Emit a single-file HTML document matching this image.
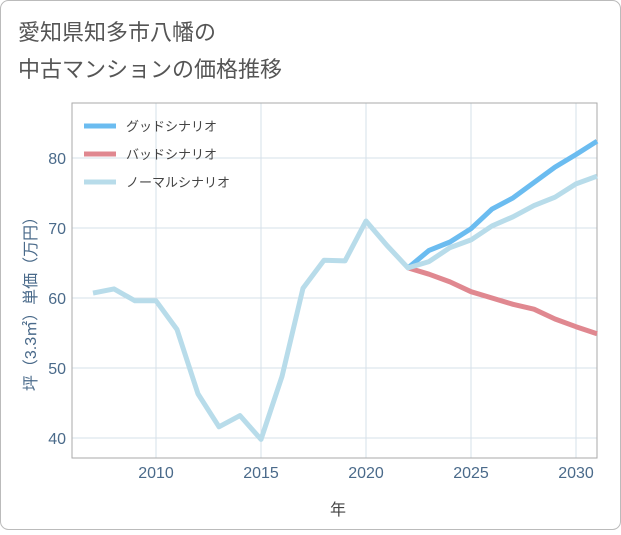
<!DOCTYPE html>
<html><head><meta charset="utf-8"><style>
body{margin:0;background:#fff;}
svg text{font-family:"Liberation Sans","Noto Sans CJK JP",sans-serif;}
</style></head><body>
<svg width="621" height="530">
<rect x="0.5" y="0.5" width="620" height="529" rx="8" fill="#fff" stroke="#bbb"/>
<text x="18" y="40" font-size="22" fill="#555">愛知県知多市八幡の</text>
<text x="18" y="77" font-size="22" fill="#555">中古マンションの価格推移</text>
<g id="grid"></g>
<rect x="72" y="103" width="525" height="355" fill="none" stroke="#aaa"/>
<g id="series"></g>
<g id="ticks"></g>
<text x="338" y="515" font-size="16" fill="#444" text-anchor="middle">年</text>
<text transform="translate(36,300) rotate(-90)" font-size="16" fill="#4a6a8a" text-anchor="middle">坪（3.3㎡）単価（万円）</text>
<g>
<line x1="84" y1="126" x2="116" y2="126" stroke="#6bbcf0" stroke-width="5"/>
<text x="126" y="131" font-size="13" fill="#444">グッドシナリオ</text>
<line x1="84" y1="154" x2="116" y2="154" stroke="#e08890" stroke-width="5"/>
<text x="126" y="159" font-size="13" fill="#444">バッドシナリオ</text>
<line x1="84" y1="182" x2="116" y2="182" stroke="#b8dcea" stroke-width="5"/>
<text x="126" y="187" font-size="13" fill="#444">ノーマルシナリオ</text>
</g>
</svg>
<script>
const normalYears=[2007,2008,2009,2010,2011,2012,2013,2014,2015,2016,2017,2018,2019,2020,2021,2022,2023,2024,2025,2026,2027,2028,2029,2030,2031];
const normalValues=[60.7,61.3,59.6,59.6,55.5,46.3,41.6,43.2,39.8,48.8,61.4,65.4,65.3,71.0,67.5,64.3,65.2,67.2,68.3,70.3,71.6,73.2,74.4,76.3,77.4];
const scenarioYears=[2022,2023,2024,2025,2026,2027,2028,2029,2030,2031];
const goodValues=[64.3,66.8,68.0,69.9,72.7,74.3,76.5,78.7,80.5,82.4];
const badValues=[64.3,63.4,62.3,60.9,60.0,59.1,58.4,57.0,55.9,54.9];
const xTicks=[2010,2015,2020,2025,2030];
const yTicks=[40,50,60,70,80];
const NS="http://www.w3.org/2000/svg";
function xs(y){return 156+(y-2010)*21;}
function ys(v){return 298-(v-60)*7;}
const grid=document.getElementById('grid'),ticks=document.getElementById('ticks'),series=document.getElementById('series');
xTicks.forEach(t=>{
 const l=document.createElementNS(NS,'line');
 
 
 l.setAttribute('x1',xs(t));l.setAttribute('x2',xs(t));l.setAttribute('y1',103);l.setAttribute('y2',458);l.setAttribute('stroke','#d5e0ea');
 grid.appendChild(l);
 const tx=document.createElementNS(NS,'text');
 
 
 tx.setAttribute('x',xs(t));tx.setAttribute('y',478);tx.setAttribute('font-size','16');tx.setAttribute('fill','#4a6a8a');tx.setAttribute('text-anchor','middle');
 tx.textContent=t;ticks.appendChild(tx);
});
yTicks.forEach(t=>{
 const l=document.createElementNS(NS,'line');
 
 
 l.setAttribute('x1',72);l.setAttribute('x2',597);l.setAttribute('y1',ys(t));l.setAttribute('y2',ys(t));l.setAttribute('stroke','#d5e0ea');
 grid.appendChild(l);
 const tx=document.createElementNS(NS,'text');
 
 
 tx.setAttribute('x',66);tx.setAttribute('y',ys(t)+6);tx.setAttribute('font-size','16');tx.setAttribute('fill','#4a6a8a');tx.setAttribute('text-anchor','end');
 tx.textContent=t;ticks.appendChild(tx);
});
function line(xsArr,vals,color,name){
 const p=document.createElementNS(NS,'polyline');
 
 
 p.setAttribute('points',xsArr.map((y,i)=>xs(y)+','+ys(vals[i])).join(' '));
 p.setAttribute('fill','none');p.setAttribute('stroke',color);p.setAttribute('stroke-width','5');p.setAttribute('stroke-linejoin','round');
 series.appendChild(p);
}
line(scenarioYears,goodValues,'#6bbcf0','good-line');
line(scenarioYears,badValues,'#e08890','bad-line');
line(normalYears,normalValues,'#b8dcea','normal-line');
</script>
</body></html>
